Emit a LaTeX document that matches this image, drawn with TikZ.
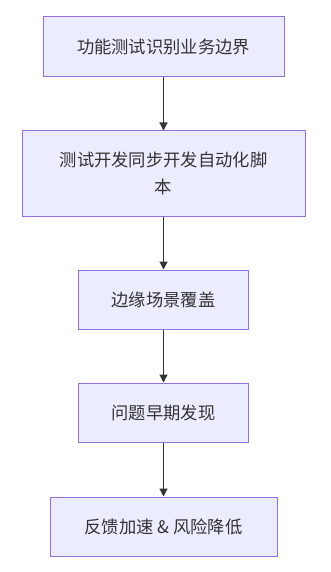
\documentclass[tikz,border=0pt]{standalone}
\usepackage{fontspec}
\setmainfont{Noto Sans CJK SC}
\usetikzlibrary{arrows.meta}
\definecolor{boxfill}{HTML}{ECECFF}
\definecolor{boxline}{HTML}{9370DB}
\definecolor{txt}{HTML}{333333}
\definecolor{edge}{HTML}{333333}
\tikzset{
  stepbox/.style={draw=boxline, fill=boxfill, line width=1pt, inner sep=0pt,
    text=txt, align=center, font=\fontsize{17.3}{27}\selectfont},
  flow/.style={draw=edge, line width=1.2pt, -{Triangle[width=8pt,length=8pt]}}
}
\begin{document}
\begin{tikzpicture}[x=1pt,y=-1pt]
\useasboundingbox[fill=white] (0,0) rectangle (330,572);
\node[stepbox, minimum width=241pt, minimum height=60pt] (a) at (163.5,47) {功能测试识别业务边界};
\node[stepbox, minimum width=283pt, minimum height=85pt] (b) at (163.5,173.5) {测试开发同步开发自动化脚\\本};
\node[stepbox, minimum width=170pt, minimum height=59pt] (c) at (163.5,299.5) {边缘场景覆盖};
\node[stepbox, minimum width=170pt, minimum height=59pt] (d) at (163.5,412.5) {问题早期发现};
\node[stepbox, minimum width=227pt, minimum height=59pt] (e) at (163.5,526.5) {反馈加速 \& 风险降低};
\draw[flow] (a) -- (b);
\draw[flow] (b) -- (c);
\draw[flow] (c) -- (d);
\draw[flow] (d) -- (e);
\end{tikzpicture}
\end{document}
